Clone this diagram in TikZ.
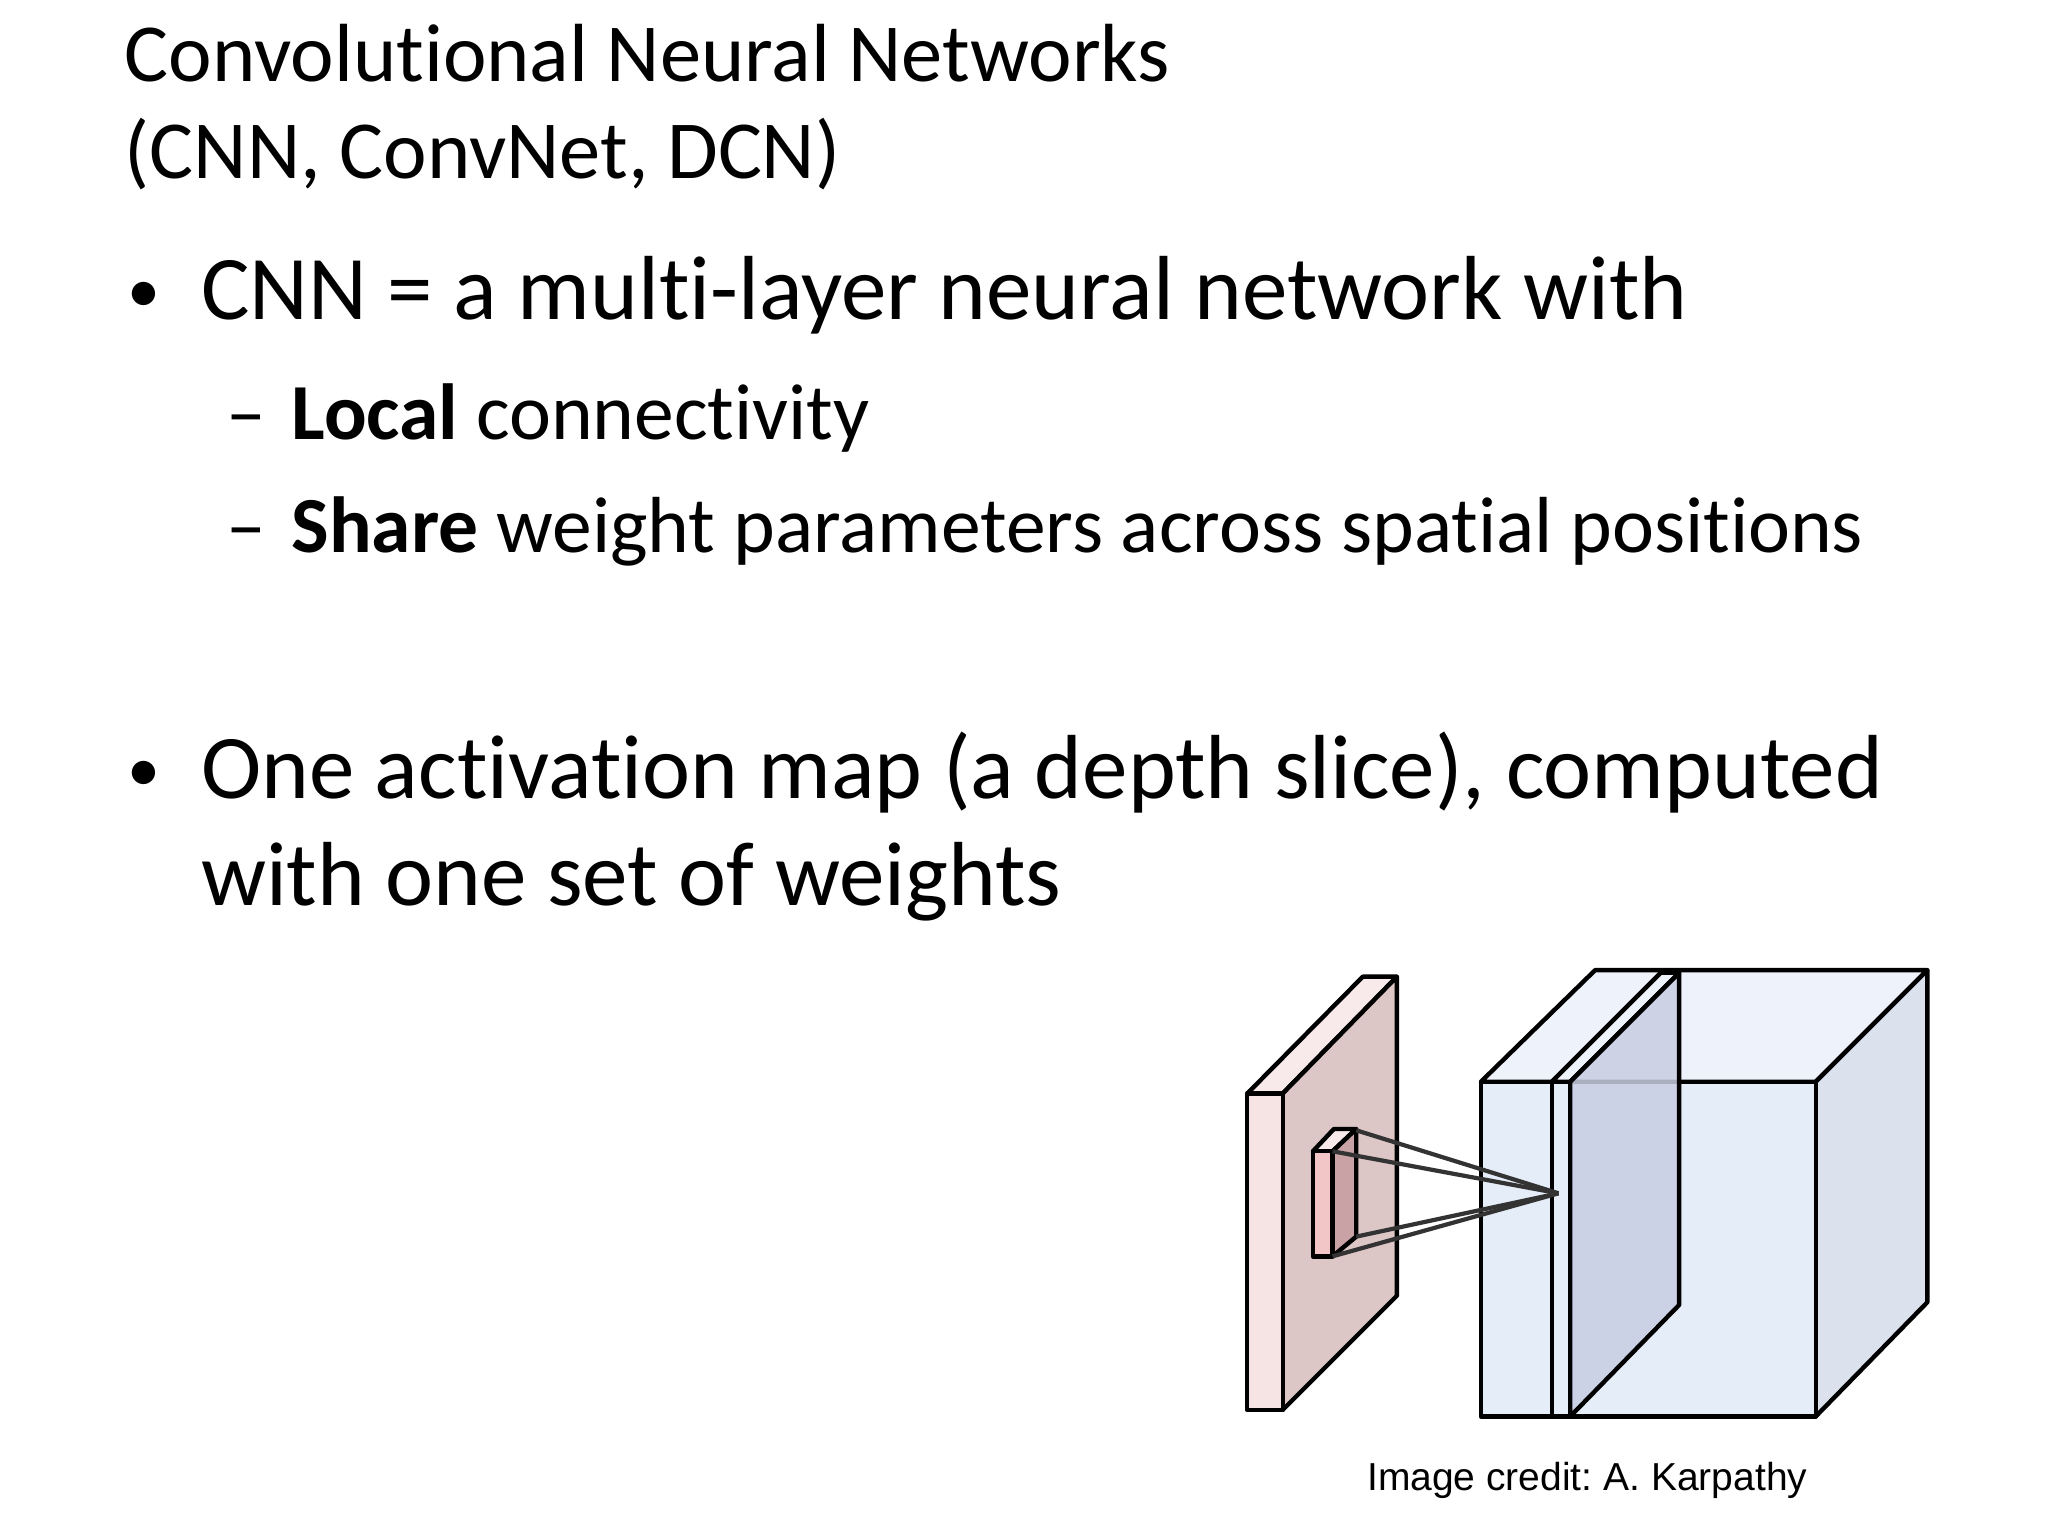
\documentclass[tikz,border=0pt]{standalone}
\usepackage{fontspec}
\setmainfont{Carlito}[Ligatures=NoCommon]
\newfontfamily\arialf{Liberation Sans}
\definecolor{pkfront}{HTML}{F6E4E4}
\definecolor{pktop}{HTML}{F8EAEA}
\definecolor{pkside}{HTML}{DDC6C6}
\definecolor{knfront}{HTML}{F2C6C6}
\definecolor{knside}{HTML}{C9A2A6}
\definecolor{bxfront}{HTML}{E5EDF8}
\definecolor{bxtop}{HTML}{EEF2FA}
\definecolor{bxside}{HTML}{DCE1EE}
\definecolor{slside}{HTML}{C8CEE2}
\begin{document}
\frenchspacing
\begin{tikzpicture}[x=1.3128pt,y=-1.3128pt,line join=round,
  txt/.style={anchor=base west,inner sep=0pt},
  edge/.style={draw=black,line width=4.4pt},
  ray/.style={draw=black!80,line width=4.2pt}]
\useasboundingbox (0,0) rectangle (1560,1170);
% texts
\node[txt,font=\fontsize{82.5}{90}\selectfont] (t1) at (95,62) {Convolutional Neural Networks};
\node[txt,font=\fontsize{82.5}{90}\selectfont] (t2) at (95,136) {(CNN, ConvNet, DCN)};
\node[txt,font=\fontsize{66}{90}\selectfont] (b1) at (97,238) {•};
\node[txt,font=\fontsize{91}{100}\selectfont] (l1) at (153,243) {CNN = a multi-layer neural network with};
\node[txt,font=\fontsize{79.5}{90}\selectfont] (d1) at (172,335) {–};
\node[txt,font=\fontsize{79.5}{90}\selectfont] (s1) at (222,335) {\textbf{Local} connectivity};
\node[txt,font=\fontsize{79.5}{90}\selectfont] (d2) at (172,421) {–};
\node[txt,font=\fontsize{79.5}{90}\selectfont] (s2) at (222,421) {\textbf{Share} weight parameters across spatial positions};
\node[txt,font=\fontsize{66}{90}\selectfont] (b2) at (97,603) {•};
\node[txt,font=\fontsize{91}{100}\selectfont] (l2) at (153,608) {One activation map (a depth slice), computed};
\node[txt,font=\fontsize{91}{100}\selectfont] (l3) at (153,690) {with one set of weights};
\node[anchor=base,inner sep=0pt,font=\arialf\fontsize{39}{44}\selectfont] (cr) at (1209,1135) {Image credit: A. Karpathy};
\begin{scope}[xshift=-6.5pt,yshift=4pt]
% pink slab
\draw[edge,fill=pktop] (955,836) -- (1043,747) -- (1069,747) -- (982,836) -- cycle;
\draw[edge,fill=pkside] (982,836) -- (1069,747) -- (1069,990) -- (982,1077) -- cycle;
\draw[edge,fill=pkfront] (955,836) rectangle (982,1077);
% kernel
\draw[edge,fill=pktop] (1005,880) -- (1021,863) -- (1038,863) -- (1020,880) -- cycle;
\draw[edge,fill=knside] (1020,880) -- (1038,863) -- (1038,945) -- (1020,960) -- cycle;
\draw[edge,fill=knfront] (1005,880) rectangle (1020,960);
\coordinate (k1) at (1038,864);
\coordinate (k2) at (1020,880);
\coordinate (k3) at (1020,960);
\coordinate (k4) at (1038,945);
% big box
\draw[edge,fill=bxtop] (1133,827) -- (1220,742) -- (1473,742) -- (1388,827) -- cycle;
\draw[edge,fill=bxside] (1388,827) -- (1473,742) -- (1473,995) -- (1388,1082) -- cycle;
\draw[edge,fill=bxfront] (1133,827) rectangle (1388,1082);
% slice
\draw[edge,fill=bxtop] (1187,827) -- (1270,744) -- (1284,744) -- (1201,827) -- cycle;
\draw[edge,fill=slside,fill opacity=0.85] (1201,827) -- (1284,744) -- (1284,997) -- (1201,1082) -- cycle;
\draw[edge,fill=bxfront] (1187,827) rectangle (1201,1082);
\coordinate (p) at (1192,912);
% rays
\draw[ray] (k1) -- (p);
\draw[ray] (k2) -- (p);
\draw[ray] (k3) -- (p);
\draw[ray] (k4) -- (p);
\end{scope}
\end{tikzpicture}
\end{document}
